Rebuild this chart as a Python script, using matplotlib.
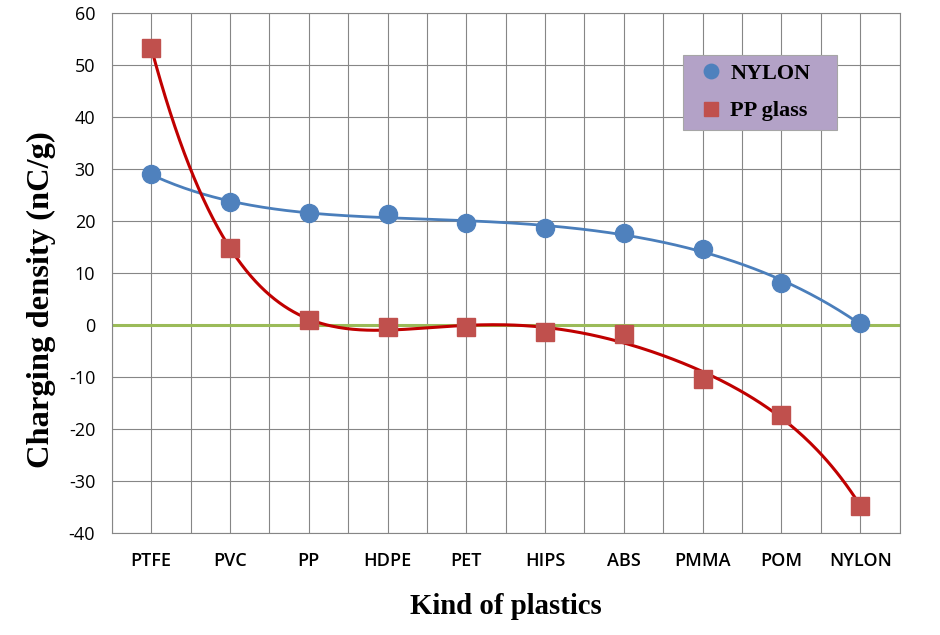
import numpy as np
import matplotlib.pyplot as plt
from matplotlib.patches import Rectangle

plt.rcParams["axes.unicode_minus"] = False

categories = ["PTFE", "PVC", "PP", "HDPE", "PET", "HIPS", "ABS", "PMMA", "POM", "NYLON"]
nylon = [29.0, 23.6, 21.5, 21.3, 19.7, 18.6, 17.6, 14.6, 8.1, 0.3]
pp_glass = [53.3, 14.8, 0.9, -0.4, -0.4, -1.3, -1.7, -10.4, -17.3, -34.8]

x = np.arange(len(categories))
xs = np.linspace(0, len(categories) - 1, 300)

fig = plt.figure(figsize=(9.4, 6.35), dpi=100)
ax = fig.add_axes([0.119, 0.1606, 0.838, 0.819])

# polynomial trend curves
fit_n = np.polyval(np.polyfit(x, nylon, 5), xs)
fit_p = np.polyval(np.polyfit(x, pp_glass, 6), xs)

ax.axhline(0, color="#9BBB59", lw=2.2, zorder=2)
ax.plot(xs, fit_n, color="#4A7EBB", lw=2, zorder=3)
ax.plot(xs, fit_p, color="#C00000", lw=2.2, zorder=3)
ax.plot(x, nylon, "o", color="#4F81BD", ms=13, mec="#4F81BD", ls="none", zorder=4, label="NYLON")
ax.plot(x, pp_glass, "s", color="#C0504D", ms=13, mec="#C0504D", ls="none", zorder=4, label="PP glass")

ax.set_xlim(-0.5, len(categories) - 0.5)
ax.set_ylim(-40, 60)
ax.set_yticks(range(-40, 61, 10))
ax.set_xticks(x)
ax.set_xticks(np.arange(-0.5, len(categories), 1.0), minor=True)
ax.set_xticklabels(categories, fontfamily="Open Sans", fontsize=13, fontweight="semibold")
for lab in ax.get_yticklabels():
    lab.set_fontfamily("Open Sans")
    lab.set_fontsize(13)
ax.tick_params(which="both", length=0)
ax.tick_params(axis="x", pad=14)
ax.tick_params(axis="y", pad=12)
ax.grid(True, which="both", color="#868686", lw=0.8)
ax.set_axisbelow(True)
for s in ax.spines.values():
    s.set_color("#868686")
    s.set_linewidth(0.8)

ax.set_xlabel("Kind of plastics", fontfamily="Liberation Serif", fontweight="bold", fontsize=20.7, labelpad=16)
ax.set_ylabel("Charging density (nC/g)", fontfamily="Liberation Serif", fontweight="bold", fontsize=23.4)
ax.yaxis.set_label_coords(-0.071, 0.448)

# legend box
ax.add_patch(Rectangle((0.7246, 0.775), 0.1954, 0.1442, transform=ax.transAxes,
                       facecolor="#B3A2C7", edgecolor="#A6A6A6", lw=0.8, zorder=5))
leg = ax.legend(loc="center", bbox_to_anchor=(0.8147, 0.847), borderaxespad=0, frameon=False,
                prop={"family": "Liberation Serif", "weight": "bold", "size": 16},
                handletextpad=0.2, borderpad=0, labelspacing=0.75, handlelength=1.3,
                markerscale=0.8)
leg.set_zorder(6)

fig.savefig("out.png", dpi=100)
